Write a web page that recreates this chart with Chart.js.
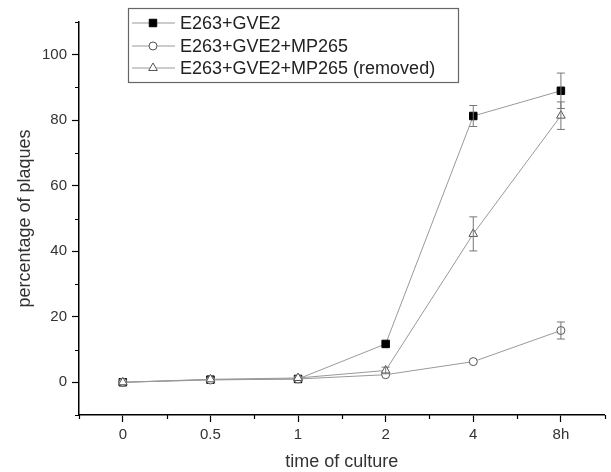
<!DOCTYPE html>
<html>
<head>
<meta charset="utf-8">
<script src="https://cdn.jsdelivr.net/npm/chart.js@4.4.0/dist/chart.umd.min.js"></script>
<style>
  html, body { margin: 0; padding: 0; background: #fff; }
  #wrap { width: 611px; height: 472px; }
</style>
</head>
<body>
<div id="wrap"><canvas id="myCanvas"></canvas></div>
<script>
// time points (category labels)
var timeLabels = ["0", "0.5", "1", "2", "4", "8h"];

// series values (percentage of plaques)
var gve2 = [0, 0.8, 1.0, 11.7, 81.3, 89.0];
var gve2Err = [0, 0, 0, 0, 3.2, 5.4];

var mp265 = [0, 0.7, 1.0, 2.3, 6.3, 15.8];
var mp265Err = [0, 0, 0, 0, 0, 2.6];

var removed = [0, 0.9, 1.3, 3.6, 45.3, 81.4];
var removedErr = [0, 0, 0, 1.0, 5.2, 4.2];

var seriesNames = ["E263+GVE2", "E263+GVE2+MP265", "E263+GVE2+MP265 (removed)"];

function toPoints(vals) {
    var pts = [];
    for (var i = 0; i < vals.length; i++) {
        pts.push({ x: i, y: vals[i] });
    }
    return pts;
}

var FONT = "'Liberation Sans', Arial, sans-serif";

function isMajorY(v) { return v % 20 === 0 && v >= 0 && v <= 100; }
function isMajorX(v) { return Number.isInteger(v) && v >= 0 && v < timeLabels.length; }

// error bars, drawn through the y scale
var errorBars = {
    id: 'errorBars',
    afterDatasetsDraw: function (chart) {
        var ctx = chart.ctx;
        var xs = chart.scales.x, ys = chart.scales.y;
        ctx.save();
        ctx.strokeStyle = '#777';
        ctx.lineWidth = 1;
        chart.data.datasets.forEach(function (ds) {
            var errs = ds.errors || [];
            for (var i = 0; i < ds.data.length; i++) {
                var e = errs[i];
                if (!e) continue;
                var px = xs.getPixelForValue(ds.data[i].x);
                var top = ys.getPixelForValue(ds.data[i].y + e);
                var bot = ys.getPixelForValue(ds.data[i].y - e);
                ctx.beginPath();
                ctx.moveTo(px, top); ctx.lineTo(px, bot);
                ctx.moveTo(px - 4, top); ctx.lineTo(px + 4, top);
                ctx.moveTo(px - 4, bot); ctx.lineTo(px + 4, bot);
                ctx.stroke();
            }
        });
        ctx.restore();
    }
};

// short minor ticks (the majors come from the grid)
var minorTicks = {
    id: 'minorTicks',
    afterDraw: function (chart) {
        var ctx = chart.ctx;
        var xs = chart.scales.x, ys = chart.scales.y;
        var area = chart.chartArea;
        ctx.save();
        ctx.strokeStyle = '#000';
        ctx.lineWidth = 1.2;
        ctx.beginPath();
        ys.ticks.forEach(function (t) {
            if (isMajorY(t.value)) return;
            var py = Math.round(ys.getPixelForValue(t.value)) + 0.5;
            ctx.moveTo(area.left - 4, py); ctx.lineTo(area.left, py);
        });
        xs.ticks.forEach(function (t) {
            if (isMajorX(t.value)) return;
            var px = Math.round(xs.getPixelForValue(t.value)) + 0.5;
            ctx.moveTo(px, area.bottom); ctx.lineTo(px, area.bottom + 4);
        });
        ctx.stroke();
        ctx.restore();
    }
};

// boxed legend with line + marker samples
var boxLegend = {
    id: 'boxLegend',
    afterDraw: function (chart) {
        var ctx = chart.ctx;
        var left = 128, top = 8, w = 330, h = 74;
        ctx.save();
        ctx.fillStyle = '#fff';
        ctx.fillRect(left, top, w, h);
        ctx.strokeStyle = '#666';
        ctx.lineWidth = 1.2;
        ctx.strokeRect(left + 0.5, top + 0.5, w, h);
        var rows = [23, 46, 68];
        chart.data.datasets.forEach(function (ds, i) {
            var y = rows[i];
            ctx.strokeStyle = ds.borderColor;
            ctx.lineWidth = 1;
            ctx.beginPath();
            ctx.moveTo(132, y); ctx.lineTo(175, y);
            ctx.stroke();
            ctx.fillStyle = ds.pointBackgroundColor;
            ctx.strokeStyle = ds.pointBorderColor;
            ctx.lineWidth = ds.pointBorderWidth;
            Chart.helpers.drawPoint(ctx, {
                pointStyle: ds.pointStyle,
                radius: ds.pointRadius,
                borderWidth: ds.pointBorderWidth
            }, 153, y);
            ctx.fillStyle = '#222';
            ctx.font = '18px ' + FONT;
            ctx.textBaseline = 'middle';
            ctx.fillText(ds.label, 180, y + 1);
        });
        ctx.restore();
    }
};

function dibuixaGrafica(ctx) {
    var chartdata = {
        datasets: [{
            label: seriesNames[0],
            data: toPoints(gve2),
            errors: gve2Err,
            order: 3,
            borderColor: '#999',
            borderWidth: 1,
            pointStyle: 'rect',
            pointRadius: 5.3,
            pointBackgroundColor: '#000',
            pointBorderColor: '#000',
            pointBorderWidth: 1
        }, {
            label: seriesNames[1],
            data: toPoints(mp265),
            errors: mp265Err,
            order: 2,
            borderColor: '#999',
            borderWidth: 1,
            pointStyle: 'circle',
            pointRadius: 4,
            pointBackgroundColor: '#fff',
            pointBorderColor: '#555',
            pointBorderWidth: 1
        }, {
            label: seriesNames[2],
            data: toPoints(removed),
            errors: removedErr,
            order: 1,
            borderColor: '#999',
            borderWidth: 1,
            pointStyle: 'triangle',
            pointRadius: 5,
            pointBackgroundColor: '#fff',
            pointBorderColor: '#555',
            pointBorderWidth: 1
        }]
    };

    return new Chart(ctx, {
        type: 'line',
        data: chartdata,
        plugins: [errorBars, minorTicks, boxLegend],
        options: {
            responsive: true,
            maintainAspectRatio: false,
            animation: false,
            layout: { padding: { left: 0, right: 3, top: 22, bottom: 0 } },
            plugins: { legend: { display: false }, tooltip: { enabled: false } },
            scales: {
                x: {
                    type: 'linear',
                    min: -0.5,
                    max: 5.5,
                    afterFit: function (s) { s.height = 57; },
                    border: { display: true, color: '#000', width: 1.5 },
                    grid: {
                        display: true, drawOnChartArea: false, tickLength: 7, tickWidth: 1.2,
                        tickColor: function (c) { return c.tick && isMajorX(c.tick.value) ? '#000' : 'rgba(0,0,0,0)'; }
                    },
                    ticks: {
                        stepSize: 0.5,
                        padding: 4,
                        color: '#333',
                        font: { family: FONT, size: 15 },
                        maxRotation: 0,
                        autoSkip: false,
                        callback: function (v) {
                            return isMajorX(v) ? timeLabels[v] : '';
                        }
                    },
                    title: {
                        display: true,
                        text: 'time of culture',
                        color: '#333',
                        font: { family: FONT, size: 18 },
                        padding: { top: 0, bottom: -1 }
                    }
                },
                y: {
                    min: -10,
                    max: 110,
                    afterFit: function (s) { s.width = 79; },
                    border: { display: true, color: '#000', width: 1.5 },
                    grid: {
                        display: true, drawOnChartArea: false, tickLength: 7, tickWidth: 1.2,
                        tickColor: function (c) { return c.tick && isMajorY(c.tick.value) ? '#000' : 'rgba(0,0,0,0)'; }
                    },
                    ticks: {
                        stepSize: 10,
                        padding: 5,
                        color: '#333',
                        font: { family: FONT, size: 15 },
                        autoSkip: false,
                        callback: function (v) {
                            return isMajorY(v) ? v : '';
                        }
                    },
                    title: {
                        display: true,
                        text: 'percentage of plaques',
                        color: '#333',
                        font: { family: FONT, size: 18 },
                        padding: { top: 14, bottom: 0 }
                    }
                }
            }
        }
    });
}

var ctx = document.getElementById('myCanvas');
dibuixaGrafica(ctx);
</script>
</body>
</html>
